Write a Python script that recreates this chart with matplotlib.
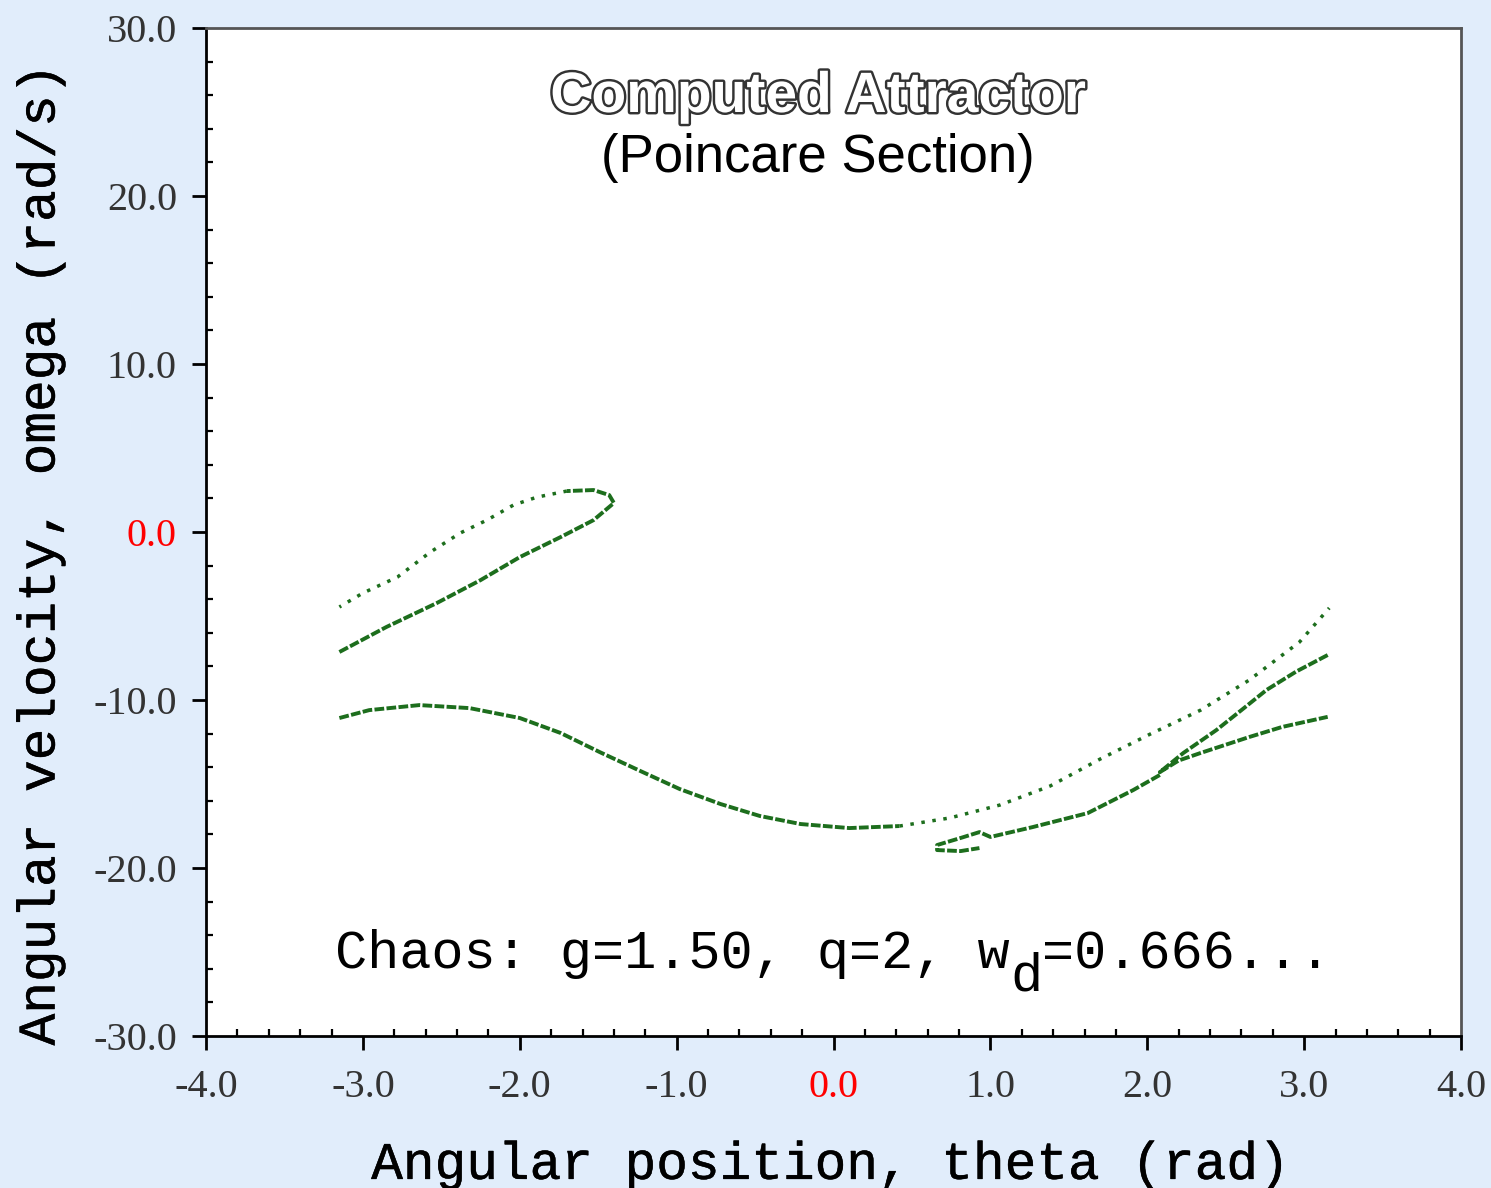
import numpy as np
import matplotlib
matplotlib.use('Agg')
import matplotlib.pyplot as plt
import matplotlib.patheffects as pe
from matplotlib.ticker import MultipleLocator, FormatStrFormatter

# Poincare section points (theta [rad], omega [rad/s])
main_dense_theta = [-3.15, -2.96, -2.64, -2.32, -2.00, -1.74, -1.49, -1.23, -0.98, -0.72, -0.47, -0.21, 0.10, 0.42]
main_dense_omega = [-11.07, -10.60, -10.30, -10.48, -11.07, -11.96, -13.10, -14.23, -15.30, -16.19, -16.90, -17.38, -17.62, -17.50]

main_sparse_theta = [0.42, 0.74, 1.06, 1.38, 1.70, 2.02, 2.34, 2.65, 2.97, 3.16]
main_sparse_omega = [-17.50, -17.02, -16.25, -15.12, -13.51, -12.02, -10.60, -8.81, -6.55, -4.52]

fold_theta = [3.15, 2.95, 2.76, 2.60, 2.44, 2.23, 2.08, 2.20, 2.34, 2.65, 2.86, 3.15]
fold_omega = [-7.32, -8.30, -9.40, -10.60, -11.79, -13.15, -14.29, -13.60, -13.15, -12.20, -11.60, -11.00]

hook_theta = [2.08, 1.91, 1.62, 1.27, 1.00, 0.93, 0.81, 0.66, 0.66, 0.81, 0.93]
hook_omega = [-14.46, -15.36, -16.73, -17.56, -18.15, -17.86, -18.21, -18.63, -18.93, -18.99, -18.81]

loop_low_theta = [-3.15, -2.85, -2.53, -2.25, -2.00, -1.74, -1.53, -1.40, -1.43, -1.53, -1.70]
loop_low_omega = [-7.14, -5.65, -4.23, -2.86, -1.49, -0.30, 0.71, 1.73, 2.20, 2.50, 2.44]

loop_up_theta = [-1.70, -1.89, -2.04, -2.21, -2.38, -2.57, -2.78, -3.00, -3.15]
loop_up_omega = [2.44, 2.08, 1.61, 0.71, -0.06, -1.19, -2.68, -3.63, -4.46]

x_ticks = [-4.0, -3.0, -2.0, -1.0, 0.0, 1.0, 2.0, 3.0, 4.0]
y_ticks = [-30.0, -20.0, -10.0, 0.0, 10.0, 20.0, 30.0]

green = '#1d6e1d'
bg = '#e1edfb'
thick = [pe.Stroke(linewidth=0.35, foreground='black'), pe.Normal()]

fig = plt.figure(figsize=(14.91, 11.88), dpi=100, facecolor=bg)
ax = fig.add_axes([0.1382, 0.1279, 0.8417, 0.8485])
ax.set_facecolor('white')

dense = (0, (2.5, 0.6))
sparse = (0, (1.0, 2.2))
ax.plot(main_dense_theta, main_dense_omega, color=green, lw=2.8, ls=dense)
ax.plot(main_sparse_theta, main_sparse_omega, color=green, lw=2.5, ls=sparse)
ax.plot(fold_theta, fold_omega, color=green, lw=2.8, ls=dense)
ax.plot(hook_theta, hook_omega, color=green, lw=2.8, ls=dense)
ax.plot(loop_low_theta, loop_low_omega, color=green, lw=2.8, ls=dense)
ax.plot(loop_up_theta, loop_up_omega, color=green, lw=2.5, ls=sparse)

ax.set_xlim(-4, 4)
ax.set_ylim(-30, 30)
ax.set_xticks(x_ticks)
ax.set_yticks(y_ticks)
ax.xaxis.set_minor_locator(MultipleLocator(0.2))
ax.yaxis.set_minor_locator(MultipleLocator(2.0))
ax.xaxis.set_major_formatter(FormatStrFormatter('%.1f'))
ax.yaxis.set_major_formatter(FormatStrFormatter('%.1f'))

for side in ['top', 'right']:
    ax.spines[side].set_color('#555555')
    ax.spines[side].set_linewidth(2)
for side in ['left', 'bottom']:
    ax.spines[side].set_color('black')
    ax.spines[side].set_linewidth(2)

ax.tick_params(which='major', direction='out', length=10, width=2, color='black',
               labelsize=29, labelcolor='#333333')
ax.tick_params(axis='x', which='major', pad=14)
ax.tick_params(axis='y', which='major', pad=11)
ax.tick_params(which='minor', direction='in', length=5, width=1.6, color='black')
for lab in ax.get_xticklabels() + ax.get_yticklabels():
    lab.set_family('Liberation Serif')
    if lab.get_text() == '0.0':
        lab.set_color('red')

ax.set_xlabel('Angular position, theta (rad)', family='Liberation Mono', fontsize=38, path_effects=thick)
ax.set_ylabel('Angular velocity, omega (rad/s)', family='Liberation Mono', fontsize=38, path_effects=thick)
ax.xaxis.set_label_coords(0.497, -0.103)
ax.yaxis.set_label_coords(-0.112, 0.477)

ax.text(0.488, 0.9167, 'Computed Attractor', transform=ax.transAxes, ha='center', va='baseline',
        family='Liberation Sans', fontweight='bold', fontsize=41, color='white',
        path_effects=[pe.Stroke(linewidth=3.5, foreground='#333333'), pe.Normal()])
ax.text(0.4876, 0.857, '(Poincare Section)', transform=ax.transAxes, ha='center', va='baseline',
        family='Liberation Sans', fontsize=38, color='black')

# parameter note in three pieces: text, lowered subscript d, rest
note_size = 38.6
cell = 0.6 * note_size
note_kw = dict(ha='left', va='baseline', family='Liberation Mono', fontsize=note_size, color='black')
ax.text(-3.18, -25.95, 'Chaos: g=1.50, q=2, w', **note_kw)
ax.annotate('d', xy=(-3.18, -25.95), xycoords='data', xytext=(21 * cell, -16),
            textcoords='offset points', **note_kw)
ax.annotate('=0.666...', xy=(-3.18, -25.95), xycoords='data', xytext=(22 * cell, 0),
            textcoords='offset points', **note_kw)

fig.savefig('out.png', dpi=100, facecolor=bg)
